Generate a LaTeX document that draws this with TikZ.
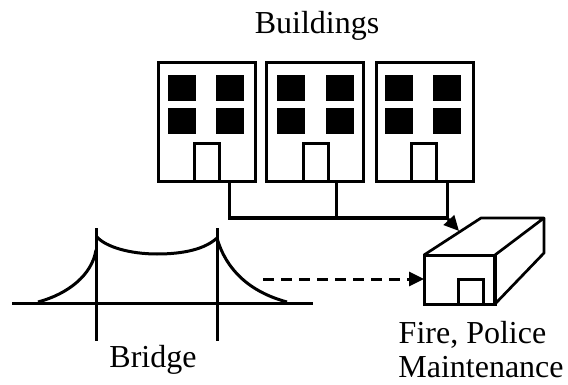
\documentclass[tikz,border=0pt]{standalone}
\usepackage{fontspec}
\setmainfont{Liberation Serif}
\usetikzlibrary{arrows.meta}
\tikzset{
  outline/.style={draw=black,line width=3pt,line join=miter,outer sep=0pt},
  bldg/.style={outline,fill=white,minimum width=97pt,minimum height=119pt,inner sep=0pt,anchor=north west},
  doorway/.style={outline,fill=white,minimum width=25pt,inner sep=0pt,anchor=south west},
  pane/.style={fill=black,draw=none,outer sep=0pt,minimum width=27.5pt,minimum height=26pt,inner sep=0pt,anchor=north west},
  wire/.style={line width=3pt,draw=black},
  solidhead/.style={-{Triangle[length=15pt,width=14pt]}},
  label/.style={font=\fontsize{32}{34}\selectfont,inner sep=0pt,anchor=base,text=black},
}
\begin{document}
\begin{tikzpicture}[x=1pt,y=-1pt]
\useasboundingbox (0,0) rectangle (568,385);

% row of three buildings
\foreach \n/\x/\wa/\wb/\d in {1/158.5/168/216/194, 2/266/277/326/303, 3/376/385/433/411}{
  \node[bldg,name=b\n] at (\x,63) {};
  \node[pane,name=wa\n] at (\wa,75) {};
  \node[pane,name=wb\n] at (\wb,75) {};
  \node[pane,name=wc\n] at (\wa,108.5) {};
  \node[pane,name=wd\n] at (\wb,108.5) {};
  \node[doorway,minimum height=38pt,name=d\n] at (\d,182) {};
}

% fire and police station in perspective
\coordinate (roofa) at (481,218);
\coordinate (roofb) at (544,218);
\coordinate (baseb) at (544,253);
\node[outline,minimum width=71pt,minimum height=49pt,inner sep=0pt,anchor=north west] (front) at (424,255) {};
\draw[wire,line width=2.7pt,line join=round] (front.north west) -- (roofa) -- (roofb) -- (front.north east);
\draw[wire,line width=2.7pt,line join=round] (roofb) -- (baseb) -- (front.south east);
\draw[line width=4pt] (front.north east) -- (front.south east);
\node[doorway,minimum height=25pt] (sdoor) at (458,304) {};

% suspension bridge
\coordinate (deckl) at (12,303);
\coordinate (deckr) at (313,303);
\coordinate (ttl) at (96,228);
\coordinate (tbl) at (96,341);
\coordinate (ttr) at (217,228);
\coordinate (tbr) at (217,341);
\draw[wire] (deckl) -- (deckr);
\draw[wire] (ttl) -- (tbl);
\draw[wire] (ttr) -- (tbr);
\draw[wire] (97,237) .. controls (106,247) and (130,254) .. (157,254)
  .. controls (184,254) and (205,249) .. (217,238);
\draw[wire] (38,302) .. controls (68,294) and (92,275) .. (96,250);
\draw[wire] (217,238) .. controls (226,270) and (250,292) .. (287,302);

% connectors to the station
\coordinate (j1) at (229.5,218);
\coordinate (j2) at (336,218);
\coordinate (j3) at (447,218);
\coordinate (hit) at (459,231);
\draw[wire] (b1.south -| j1) -- (j1) -- (j3);
\draw[wire] (b2.south -| j2) -- (j2);
\draw[wire] (b3.south -| j3) -- (j3);
\draw[wire,solidhead] (j3) -- (hit);
\coordinate (dashstart) at (263,279);
\draw[wire,dash pattern=on 11pt off 7pt,solidhead] (dashstart) -- (dashstart -| front.west);

% captions
\node[label] (lbuild) at (317,34) {Buildings};
\node[label] (lbridge) at (153,367) {Bridge};
\node[label] (lfire) at (472.5,343) {Fire, Police};
\node[label] (lmaint) at (481,377) {Maintenance};
\end{tikzpicture}
\end{document}
